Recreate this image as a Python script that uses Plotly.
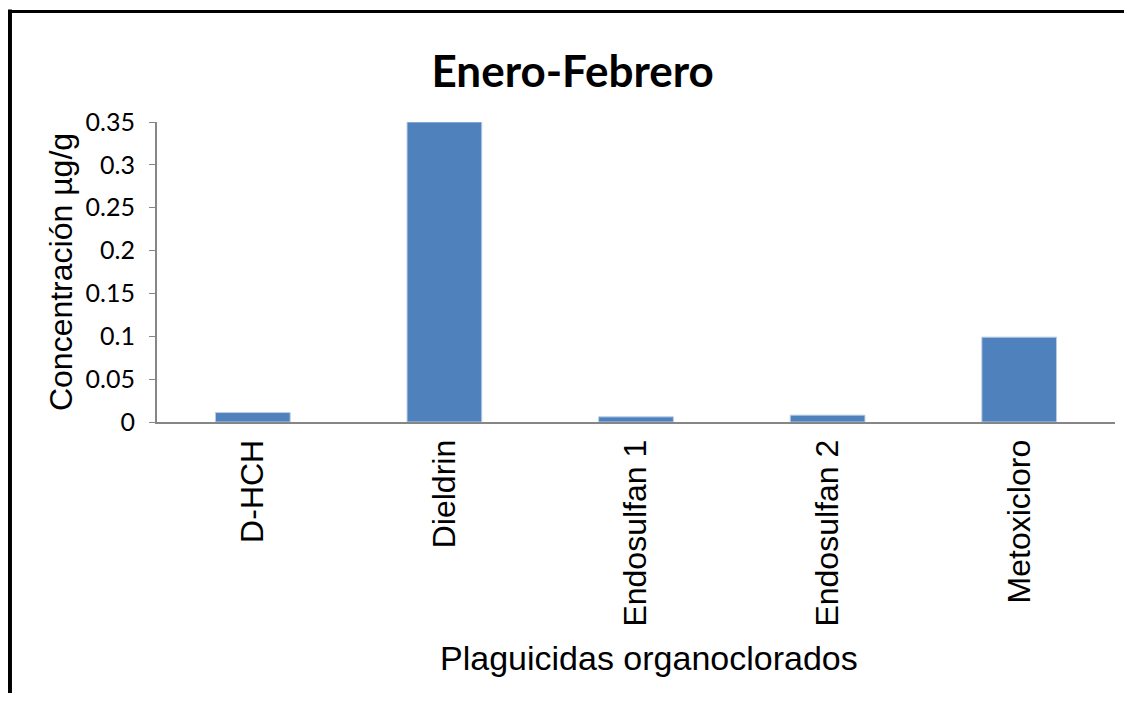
import plotly.graph_objects as go

# data
plaguicidas = ["D-HCH", "Dieldrin", "Endosulfan 1", "Endosulfan 2", "Metoxicloro"]
concentracion = [0.011, 0.35, 0.006, 0.008, 0.099]
y_ticks = [0, 0.05, 0.1, 0.15, 0.2, 0.25, 0.3, 0.35]
y_tick_labels = ["0", "0.05", "0.1", "0.15", "0.2", "0.25", "0.3", "0.35"]

fig = go.Figure(go.Bar(
    x=plaguicidas,
    y=concentracion,
    marker=dict(color="#4F81BD", line=dict(color="#B9CDE5", width=1)),
))

# page body adds 8px around the figure, so sizes are reduced by that
fig.update_layout(
    width=1116, height=685,
    margin=dict(l=149, r=9, t=114, b=271),
    plot_bgcolor="white", paper_bgcolor="white",
    bargap=0.61,
    showlegend=False,
    title=dict(text="<b>Enero-Febrero</b>", x=0.506, xanchor="center",
               y=0.9066, yanchor="middle",
               font=dict(family="Lato", size=44, color="black")),
    font=dict(family="Liberation Sans", color="black"),
)

fig.update_xaxes(
    showline=True, linecolor="#868686", linewidth=2,
    ticks="", tickangle=-90, ticklabelstandoff=3,
    tickfont=dict(family="Liberation Sans", size=32, color="black"),
)
fig.update_yaxes(
    range=[0, 0.35], tickvals=y_ticks, ticktext=y_tick_labels,
    showline=True, linecolor="#868686", linewidth=2,
    ticks="outside", ticklen=6, tickcolor="#868686", ticklabelstandoff=9,
    showgrid=False, zeroline=False,
    tickfont=dict(family="Lato", size=25, color="black"),
    title=dict(text="Concentración µg/g", standoff=3,
               font=dict(family="Liberation Sans", size=32, color="black")),
)

# x axis title sits a little right of the plot centre in the original
fig.add_annotation(text="Plaguicidas organoclorados", xref="paper", yref="paper",
                   x=0.5136, y=-0.787, xanchor="center", yanchor="middle",
                   showarrow=False,
                   font=dict(family="Liberation Sans", size=34, color="black"))

# outer frame lines (left and top) as in the original picture
fig.add_shape(type="line", xref="paper", yref="paper",
              x0=-0.154, x1=-0.154, y0=1.375, y1=-0.91,
              line=dict(color="black", width=5))
fig.add_shape(type="line", xref="paper", yref="paper",
              x0=-0.156, x1=1.03, y0=1.368, y1=1.368,
              line=dict(color="black", width=3))

fig.write_html("out.html")
